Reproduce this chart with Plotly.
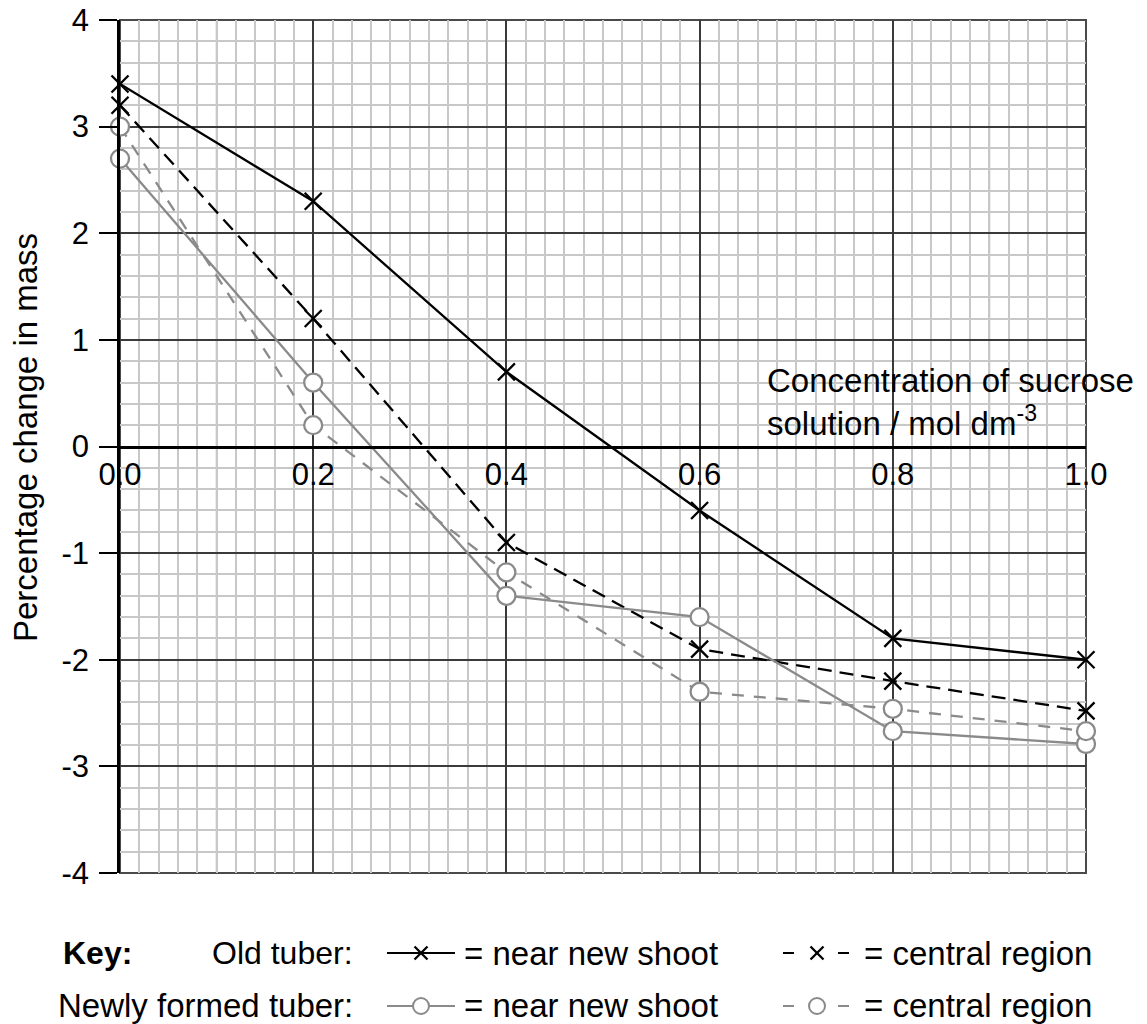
import numpy as np
import plotly.graph_objects as go

# ---------------- data ----------------
conc = [0.0, 0.2, 0.4, 0.6, 0.8, 1.0]
old_near = [3.4, 2.3, 0.7, -0.6, -1.8, -2.0]
old_central = [3.2, 1.2, -0.9, -1.9, -2.2, -2.48]
new_near = [2.7, 0.6, -1.4, -1.6, -2.67, -2.79]
new_central = [3.0, 0.2, -1.18, -2.3, -2.46, -2.67]

x_ticks = [0.0, 0.2, 0.4, 0.6, 0.8, 1.0]
x_tick_labels = ["0.0", "0.2", "0.4", "0.6", "0.8", "1.0"]
y_ticks = [-4, -3, -2, -1, 0, 1, 2, 3, 4]
y_tick_labels = ["-4", "-3", "-2", "-1", "0", "1", "2", "3", "4"]

y_title = "Percentage change in mass"
x_title = "Concentration of sucrose<br>solution / mol dm<sup>-3</sup>"
key_labels = ["Key:", "Old tuber:", "Newly formed tuber:", "= near new shoot", "= central region"]

# ---------------- layout helpers ----------------
OFF = 8                       # page body margin of the browser
PAGE_W, PAGE_H = 1147, 1024
W, H = PAGE_W - OFF, PAGE_H - OFF
PLOT_L, PLOT_R, PLOT_T, PLOT_B = 120, 1086, 20, 873   # page pixels of the plot area
L, T = PLOT_L - OFF, PLOT_T - OFF
R, B = PAGE_W - PLOT_R, PAGE_H - PLOT_B
PW, PH = PLOT_R - PLOT_L, PLOT_B - PLOT_T
FONT = "Liberation Sans, Arial, Helvetica, sans-serif"
BLACK = "#000000"
GRAY = "#8a8a8a"


def px(x):
    return (x - PLOT_L) / PW


def py(y):
    return (PLOT_B - y) / PH


fig = go.Figure()

fig.add_trace(go.Scatter(
    x=conc, y=old_near, mode="lines+markers", cliponaxis=False, showlegend=False,
    line=dict(color=BLACK, width=2.3),
    marker=dict(symbol="x-thin", size=17, color=BLACK, line=dict(color=BLACK, width=2.3))))
fig.add_trace(go.Scatter(
    x=conc, y=old_central, mode="lines+markers", cliponaxis=False, showlegend=False,
    line=dict(color=BLACK, width=2.3, dash="14px,8px"),
    marker=dict(symbol="x-thin", size=17, color=BLACK, line=dict(color=BLACK, width=2.3))))
fig.add_trace(go.Scatter(
    x=conc, y=new_near, mode="lines+markers", cliponaxis=False, showlegend=False,
    line=dict(color=GRAY, width=2.3),
    marker=dict(symbol="circle", size=18, color="white", line=dict(color=GRAY, width=2.3))))
fig.add_trace(go.Scatter(
    x=conc, y=new_central, mode="lines+markers", cliponaxis=False, showlegend=False,
    line=dict(color=GRAY, width=2.3, dash="12px,10px"),
    marker=dict(symbol="circle", size=18, color="white", line=dict(color=GRAY, width=2.3))))

shapes = []
# medium-weight grid lines at the odd tenths
for xv in np.round(np.arange(0.1, 1.0, 0.2), 2):
    shapes.append(dict(type="line", xref="x", yref="paper", x0=xv, x1=xv, y0=0, y1=1,
                       line=dict(color="#8c8c8c", width=1.5), layer="between"))
# frame
shapes.append(dict(type="rect", xref="paper", yref="paper", x0=0, x1=1, y0=0, y1=1,
                   line=dict(color="#4a4a4a", width=2), layer="between"))


# key glyphs
def seg(x0, x1, y, color):
    shapes.append(dict(type="line", xref="paper", yref="paper", x0=px(x0), x1=px(x1),
                       y0=py(y), y1=py(y), line=dict(color=color, width=2)))


def cross(xc, yc, r, color):
    shapes.append(dict(type="line", xref="paper", yref="paper", x0=px(xc - r), x1=px(xc + r),
                       y0=py(yc - r), y1=py(yc + r), line=dict(color=color, width=2.3)))
    shapes.append(dict(type="line", xref="paper", yref="paper", x0=px(xc - r), x1=px(xc + r),
                       y0=py(yc + r), y1=py(yc - r), line=dict(color=color, width=2.3)))


def ring(xc, yc, r, color):
    shapes.append(dict(type="circle", xref="paper", yref="paper", x0=px(xc - r), x1=px(xc + r),
                       y0=py(yc + r), y1=py(yc - r), fillcolor="white",
                       line=dict(color=color, width=2)))


ROW1, ROW2 = 953, 1006
seg(387, 455, ROW1, BLACK)
cross(421, ROW1, 6.5, BLACK)
seg(783, 794, ROW1, BLACK)
seg(838, 849, ROW1, BLACK)
cross(817, ROW1, 6.5, BLACK)
seg(387, 455, ROW2, GRAY)
ring(421, ROW2, 8, GRAY)
seg(783, 794, ROW2, GRAY)
seg(838, 849, ROW2, GRAY)
ring(817, ROW2, 8, GRAY)

annotations = [
    dict(text=y_title, textangle=-90, xref="paper", yref="paper", x=px(25), y=py(438),
         xanchor="center", yanchor="middle", showarrow=False, font=dict(size=33, color=BLACK)),
    dict(text=x_title, xref="paper", yref="paper", x=px(765), y=py(444), xanchor="left",
         yanchor="bottom", align="left", showarrow=False, font=dict(size=33, color=BLACK)),
    dict(text="<b>" + key_labels[0] + "</b>", xref="paper", yref="paper", x=px(61), y=py(ROW1),
         xanchor="left", yanchor="middle", showarrow=False, font=dict(size=32, color=BLACK)),
    dict(text=key_labels[1], xref="paper", yref="paper", x=px(355), y=py(ROW1),
         xanchor="right", yanchor="middle", showarrow=False, font=dict(size=32, color=BLACK)),
    dict(text=key_labels[2], xref="paper", yref="paper", x=px(355), y=py(ROW2),
         xanchor="right", yanchor="middle", showarrow=False, font=dict(size=33, color=BLACK)),
    dict(text=key_labels[3], xref="paper", yref="paper", x=px(462), y=py(ROW1),
         xanchor="left", yanchor="middle", showarrow=False, font=dict(size=33, color=BLACK)),
    dict(text=key_labels[3], xref="paper", yref="paper", x=px(462), y=py(ROW2),
         xanchor="left", yanchor="middle", showarrow=False, font=dict(size=33, color=BLACK)),
    dict(text=key_labels[4], xref="paper", yref="paper", x=px(862), y=py(ROW1),
         xanchor="left", yanchor="middle", showarrow=False, font=dict(size=33, color=BLACK)),
    dict(text=key_labels[4], xref="paper", yref="paper", x=px(862), y=py(ROW2),
         xanchor="left", yanchor="middle", showarrow=False, font=dict(size=33, color=BLACK)),
]

minor_x = list(np.round(np.arange(0.0, 1.0001, 0.02), 2))
minor_y = list(np.round(np.arange(-4.0, 4.0001, 0.2), 2))

fig.update_layout(
    width=W, height=H,
    margin=dict(l=L, r=R, t=T, b=B, pad=0, autoexpand=False),
    paper_bgcolor="white", plot_bgcolor="white",
    font=dict(family=FONT, color=BLACK),
    showlegend=False,
    shapes=shapes,
    annotations=annotations,
    xaxis=dict(
        range=[0, 1], anchor="free", position=0.5, side="bottom", automargin=False,
        showline=True, linecolor=BLACK, linewidth=2.5, zeroline=False,
        tickmode="array", tickvals=x_ticks, ticktext=x_tick_labels, ticks="",
        tickfont=dict(size=31, color=BLACK), ticklabeloverflow="allow",
        showgrid=True, gridcolor="#3a3a3a", gridwidth=1.5,
        minor=dict(tickmode="array", tickvals=minor_x, showgrid=True,
                   gridcolor="#c8c8c8", gridwidth=1.5, ticks=""),
        fixedrange=True,
    ),
    yaxis=dict(
        range=[-4, 4], showline=True, linecolor=BLACK, linewidth=2.5, zeroline=False,
        automargin=False,
        tickmode="array", tickvals=y_ticks, ticktext=y_tick_labels,
        ticks="outside", ticklen=18, tickwidth=2, tickcolor=BLACK, ticklabelstandoff=4,
        tickfont=dict(size=31, color=BLACK), ticklabeloverflow="allow",
        showgrid=True, gridcolor="#3a3a3a", gridwidth=1.5,
        minor=dict(tickmode="array", tickvals=minor_y, showgrid=True,
                   gridcolor="#c8c8c8", gridwidth=1.5, ticks=""),
        fixedrange=True,
    ),
)

fig.write_html("out.html")
